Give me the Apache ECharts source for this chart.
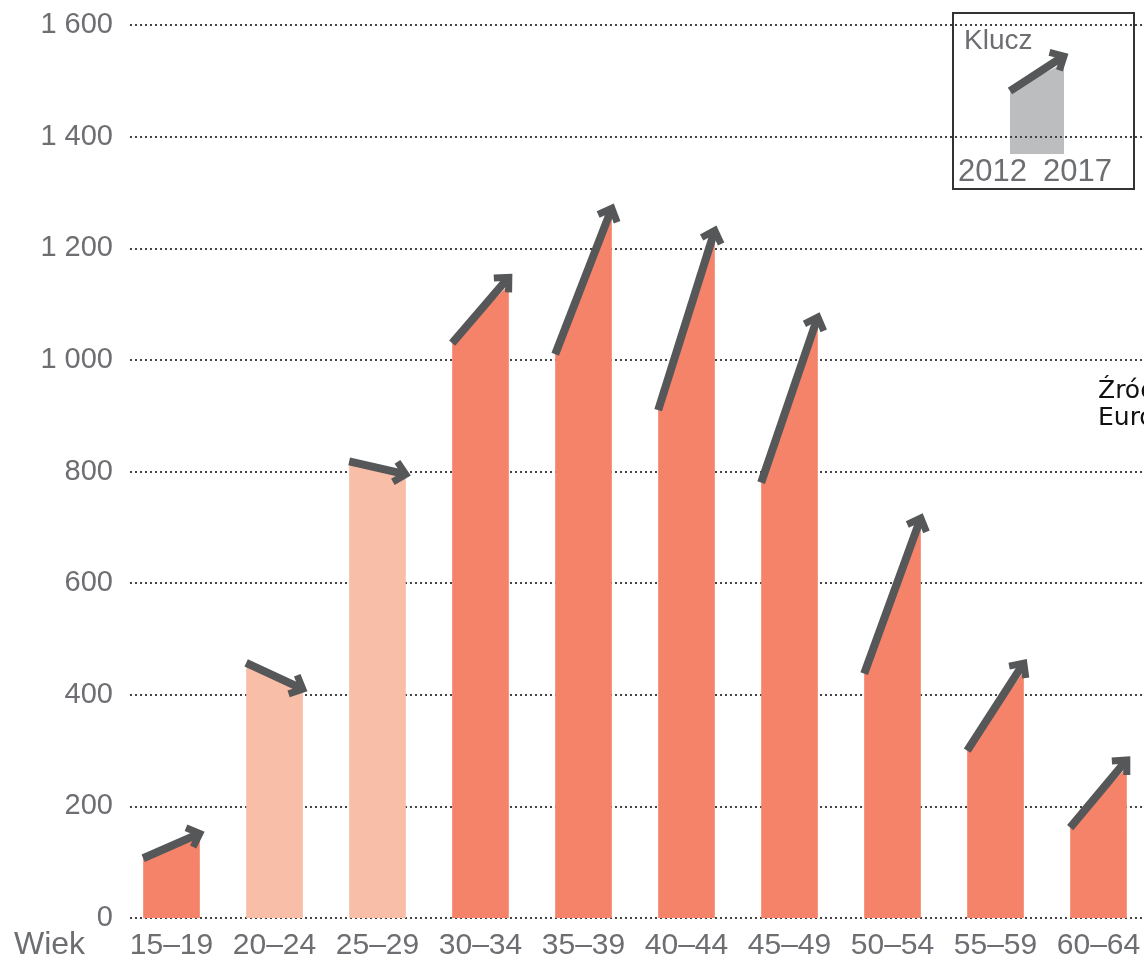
<!DOCTYPE html>
<html>
<head>
<meta charset="utf-8">
<script src="https://cdn.jsdelivr.net/npm/echarts@6/dist/echarts.min.js"></script>
<style>
  html, body { margin: 0; padding: 0; background: #fff; overflow: hidden; }
  #chart { width: 1150px; height: 962px; }
</style>
</head>
<body>
<div id="chart"></div>
<script>
// grupy wieku i wartości 2012 -> 2017
var categories = ['15–19', '20–24', '25–29', '30–34', '35–39', '40–44', '45–49', '50–54', '55–59', '60–64'];
var values2012 = [107, 457, 818, 1030, 1010, 910, 780, 438, 300, 162];
var values2017 = [145, 410, 795, 1135, 1255, 1215, 1060, 700, 442, 270];
var yTicks = [0, 200, 400, 600, 800, 1000, 1200, 1400, 1600];

var colUp = '#F4836A';
var colDown = '#F9BEA7';
var colArrow = '#555759';
var colText = '#6d6e71';
var font = '"Liberation Sans", Arial, sans-serif';

// strzałka: trzon + grot (grot wystaje nad róg słupka)
function arrow(x1, y1, x2, y2, w) {
	var dx = x2 - x1, dy = y2 - y1;
	var len = Math.sqrt(dx * dx + dy * dy);
	var ux = dx / len, uy = dy / len;
	var tx = x2, ty = uy < 0 ? y2 + 10 * uy : y2;
	var a = Math.PI * 0.24, L = 15;
	var c = Math.cos(a), s = Math.sin(a);
	var b1 = [tx - L * (ux * c - uy * s), ty - L * (uy * c + ux * s)];
	var b2 = [tx - L * (ux * c + uy * s), ty - L * (uy * c - ux * s)];
	return [
		{ type: 'polyline', shape: { points: [[x1, y1], [tx - ux * 3, ty - uy * 3]] },
		  style: { stroke: colArrow, lineWidth: w, fill: null } },
		{ type: 'polyline', shape: { points: [b1, [tx, ty], b2] },
		  style: { stroke: colArrow, lineWidth: w - 1, fill: null, lineJoin: 'miter' } }
	];
}

var data = [];
for (var i = 0; i < categories.length; i++) {
	data.push([i, values2012[i], values2017[i]]);
}

function renderItem(params, api) {
	var idx = api.value(0);
	var v1 = api.value(1), v2 = api.value(2);
	var base = api.coord([idx, 0]);
	var band = api.size([1, 0])[0];
	var w = band * 0.55;
	var xL = base[0] - w / 2, xR = base[0] + w / 2;
	var yL = api.coord([idx, v1])[1];
	var yR = api.coord([idx, v2])[1];
	var children = [{
		type: 'polygon',
		shape: { points: [[xL, base[1]], [xL, yL], [xR, yR], [xR, base[1]]] },
		style: { fill: v2 >= v1 ? colUp : colDown }
	}];
	children = children.concat(arrow(xL, yL, xR, yR, 8));
	return { type: 'group', children: children };
}

// klucz (legenda)
var keyGroup = {
	type: 'group', left: 952, top: 12, z: 100,
	children: [
		{ type: 'rect', shape: { x: 0, y: 0, width: 181, height: 176 },
		  style: { fill: '#fff', stroke: '#333', lineWidth: 2 } },
		{ type: 'text', x: 11, y: 14, style: { text: 'Klucz', fill: colText, font: '28px ' + font } },
		{ type: 'polygon', shape: { points: [[57, 78], [111, 50], [111, 141], [57, 141]] },
		  style: { fill: '#bcbdbf' } }
	].concat(arrow(57, 78, 111, 48, 8)).concat([
		{ type: 'text', x: 5, y: 144, style: { text: '2012', fill: colText, font: '31px ' + font } },
		{ type: 'text', x: 90, y: 144, style: { text: '2017', fill: colText, font: '31px ' + font } }
	])
};

var myChart = echarts.init(document.getElementById('chart'));
var option = {
	backgroundColor: '#fff',
	animation: false,
	// siatka 0: linie pomocnicze i etykiety osi Y, siatka 1: słupki
	grid: [
		{ left: 130, right: 0, top: 25, bottom: 44 },
		{ left: 120, right: 0, top: 25, bottom: 44 }
	],
	xAxis: [{
		gridIndex: 0, type: 'value', min: 0, max: 1, show: false
	}, {
		gridIndex: 1,
		type: 'category',
		data: categories,
		axisLine: { show: false },
		axisTick: { show: false },
		splitLine: { show: false },
		axisLabel: { color: colText, fontSize: 30, fontFamily: font, margin: 13, interval: 0 }
	}],
	yAxis: [{
		gridIndex: 0,
		type: 'value',
		min: yTicks[0],
		max: yTicks[yTicks.length - 1],
		interval: 200,
		axisLine: { show: false },
		axisTick: { show: false },
		axisLabel: {
			color: colText, fontSize: 29, fontFamily: font, margin: 17,
			formatter: function (v) {
				return v >= 1000 ? Math.floor(v / 1000) + ' ' + String(v % 1000).padStart(3, '0') : String(v);
			}
		},
		splitLine: { lineStyle: { color: '#444', width: 2, type: [2, 3] } }
	}, {
		gridIndex: 1,
		type: 'value',
		min: yTicks[0],
		max: yTicks[yTicks.length - 1],
		show: false,
		splitLine: { show: false }
	}],
	series: [{
		type: 'custom',
		xAxisIndex: 1,
		yAxisIndex: 1,
		renderItem: renderItem,
		data: data,
		clip: false
	}],
	graphic: [
		keyGroup,
		{ type: 'text', left: 14, top: 929, style: { text: 'Wiek', fill: colText, font: '32px ' + font } },
		{ type: 'text', left: 1098, top: 378, z: 100,
		  style: { text: 'Źródło:\nEurostat', fill: '#111', font: '25px "DejaVu Sans", sans-serif', lineHeight: 27 } }
	]
};
myChart.setOption(option);
</script>
</body>
</html>
